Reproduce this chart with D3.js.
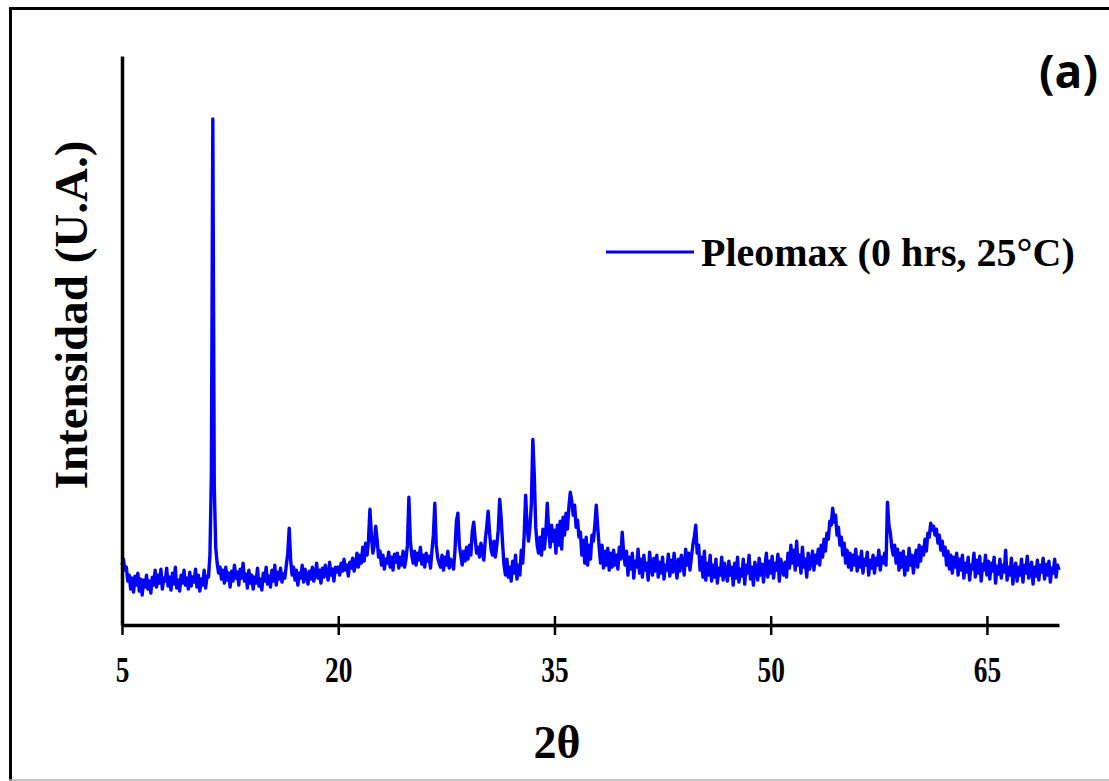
<!DOCTYPE html>
<html>
<head>
<meta charset="utf-8">
<script src="https://cdn.jsdelivr.net/npm/d3@7"></script>
<style>
  html, body { margin: 0; padding: 0; background: #fff; overflow: hidden; }
  svg { display: block; }
</style>
</head>
<body>
<div id="chart"></div>
<script>
// Patrón DRX - Pleomax (0 hrs, 25°C)
// 2θ de 5 a 70 en pasos de 0.1
const thetaStart = 5;
const thetaStep = 0.1;

const intensity = [
  // 5
  60, 66, 55, 58, 44, 50, 36, 47, 33, 49,
  // 6
  40, 52, 34, 46, 30, 45, 38, 50, 36, 44,
  // 7
  32, 48, 40, 55, 38, 50, 42, 56, 36, 47,
  // 8
  44, 57, 39, 48, 35, 52, 41, 58, 37, 45,
  // 9
  34, 50, 42, 55, 40, 47, 36, 53, 39, 48,
  // 10
  43, 56, 38, 50, 34, 46, 40, 55, 37, 49,
  // 11
  48, 70, 150, 507, 140, 78, 62, 52, 58, 46,
  // 12
  55, 42, 58, 45, 52, 38, 54, 44, 60, 47,
  // 13
  53, 40, 56, 47, 62, 44, 51, 37, 55, 42,
  // 14
  50, 36, 48, 42, 57, 39, 46, 35, 52, 44,
  // 15
  58, 41, 49, 38, 55, 44, 60, 40, 53, 46,
  // 16
  57, 43, 51, 47, 60, 72, 97, 65, 50, 58,
  // 17
  45, 55, 40, 52, 47, 60, 43, 56, 49, 41,
  // 18
  54, 46, 58, 44, 50, 62, 47, 55, 42, 57,
  // 19
  48, 60, 52, 45, 63, 50, 56, 44, 58, 53,
  // 20
  58, 50, 62, 54, 66, 55, 60, 49, 63, 57,
  // 21
  67, 54, 61, 72, 58, 70, 62, 78, 64, 82,
  // 22
  70, 85, 116, 90, 72, 80, 99, 85, 68, 74,
  // 23
  60, 70, 56, 66, 62, 73, 58, 68, 55, 71,
  // 24
  63, 72, 57, 68, 60, 74, 58, 66, 80, 128,
  // 25
  85, 70, 62, 74, 60, 72, 65, 78, 61, 70,
  // 26
  58, 72, 64, 69, 57, 74, 90, 122, 80, 67,
  // 27
  62, 58, 70, 55, 68, 60, 74, 57, 66, 62,
  // 28
  56, 75, 104, 112, 80, 70, 60, 74, 64, 78,
  // 29
  66, 80, 70, 94, 103, 86, 72, 78, 68, 82,
  // 30
  74, 65, 85, 98, 114, 92, 76, 70, 84, 68,
  // 31
  80, 95, 126, 108, 82, 60, 50, 66, 48, 58,
  // 32
  44, 64, 52, 70, 46, 60, 50, 75, 62, 90,
  // 33
  130, 100, 84, 98, 122, 186, 150, 98, 80, 72,
  // 34
  88, 70, 96, 76, 92, 122, 95, 78, 100, 84,
  // 35
  95, 72, 100, 80, 104, 76, 108, 90, 112, 96,
  // 36
  118, 133, 124, 110, 120, 98, 105, 88, 93, 70,
  // 37
  85, 62, 88, 60, 80, 66, 90, 84, 100, 120,
  // 38
  98, 78, 62, 80, 57, 74, 60, 77, 55, 72,
  // 39
  58, 75, 60, 70, 56, 78, 66, 93, 72, 60,
  // 40
  74, 50, 68, 56, 72, 47, 64, 58, 76, 52,
  // 41
  66, 48, 70, 55, 62, 45, 73, 58, 50, 67,
  // 42
  54, 70, 48, 63, 52, 68, 46, 60, 55, 71,
  // 43
  49, 65, 53, 72, 58, 47, 66, 54, 70, 62,
  // 44
  50, 76, 60, 72, 55, 68, 80, 88, 100, 72,
  // 45
  80, 55, 68, 48, 74, 45, 62, 50, 70, 44,
  // 46
  60, 48, 66, 42, 57, 50, 68, 45, 62, 52,
  // 47
  44, 64, 50, 58, 40, 62, 47, 68, 43, 56,
  // 48
  49, 66, 41, 60, 52, 70, 46, 58, 40, 63,
  // 49
  54, 45, 67, 50, 61, 43, 58, 72, 48, 64,
  // 50
  52, 69, 47, 62, 55, 71, 44, 66, 58, 50,
  // 51
  63, 48, 72, 57, 80, 62, 75, 55, 84, 60,
  // 52
  70, 52, 78, 58, 66, 48, 72, 56, 63, 74,
  // 53
  55, 70, 62, 76, 60, 80, 68, 86, 74, 92,
  // 54
  86, 104, 100, 117, 103, 110, 90, 98, 80, 88,
  // 55
  70, 82, 62, 75, 58, 72, 55, 70, 60, 76,
  // 56
  54, 68, 58, 74, 52, 66, 60, 73, 50, 65,
  // 57
  57, 70, 52, 67, 60, 75, 55, 68, 62, 72,
  // 58
  60, 123, 100, 92, 78, 70, 80, 62, 76, 55,
  // 59
  72, 58, 74, 50, 68, 55, 77, 60, 70, 52,
  // 60
  66, 75, 58, 80, 64, 78, 70, 86, 74, 92,
  // 61
  88, 102, 95, 99, 90, 96, 82, 90, 75, 84,
  // 62
  70, 78, 60, 74, 56, 70, 52, 68, 58, 72,
  // 63
  50, 66, 55, 70, 47, 62, 53, 68, 45, 60,
  // 64
  56, 72, 48, 65, 52, 69, 44, 61, 55, 70,
  // 65
  50, 64, 46, 62, 54, 68, 42, 59, 51, 66,
  // 66
  47, 60, 53, 75, 45, 58, 50, 67, 41, 56,
  // 67
  62, 44, 58, 50, 66, 43, 60, 52, 69, 47,
  // 68
  55, 63, 41, 58, 49, 65, 45, 60, 53, 67,
  // 69
  46, 61, 50, 64, 43, 57, 52, 66, 48, 60,
  // 70
  55
];

const xTicks = [5, 20, 35, 50, 65];
const seriesName = "Pleomax (0 hrs, 25°C)";
const panelLabel = "(a)";

const W = 1109, H = 781;
const serif = "'Liberation Serif', 'Times New Roman', serif";

const svg = d3.select("#chart")
    .append("svg")
    .attr("width", W)
    .attr("height", H);

// marco exterior
svg.append("line")
    .attr("x1", 9).attr("x2", W + 5)
    .attr("y1", 8.5).attr("y2", 8.5)
    .attr("stroke", "#000").attr("stroke-width", 3);
svg.append("line")
    .attr("x1", 10.5).attr("x2", 10.5)
    .attr("y1", 7).attr("y2", H)
    .attr("stroke", "#000").attr("stroke-width", 3);
svg.append("line")
    .attr("x1", 9).attr("x2", W)
    .attr("y1", 780).attr("y2", 780)
    .attr("stroke", "#b5b5b5").attr("stroke-width", 1.5);

// escalas
const x = d3.scaleLinear().domain([5, 70]).range([122, 1059]);
const y = d3.scaleLinear().domain([0, 570]).range([625, 56]);

const data = intensity.map((v, i) => ({ t: thetaStart + i * thetaStep, v: v }));

// curva
const line = d3.line()
    .x(d => x(d.t))
    .y(d => y(d.v));

svg.append("path")
    .datum(data)
    .attr("fill", "none")
    .attr("stroke", "#0000ff")
    .attr("stroke-width", 3.4)
    .attr("stroke-linejoin", "round")
    .attr("d", line);

// eje X
const xAxis = svg.append("g")
    .attr("transform", `translate(0,${y(0)})`)
    .call(d3.axisBottom(x).tickValues(xTicks).tickSizeOuter(0).tickSize(0).tickPadding(0));

xAxis.select(".domain")
    .attr("stroke", "#000")
    .attr("stroke-width", 3.5);
xAxis.selectAll(".tick line")
    .attr("y1", -9).attr("y2", 10)
    .attr("stroke", "#000").attr("stroke-width", 2.5);
xAxis.selectAll(".tick text")
    .attr("y", 0)
    .attr("dy", 0)
    .attr("transform", "translate(0,57) scale(0.76,1)")
    .style("font-family", serif)
    .style("font-weight", "bold")
    .style("font-size", "36px")
    .attr("fill", "#000");

// eje Y (sin marcas)
const yAxis = svg.append("g")
    .attr("transform", `translate(${x(5)},0)`)
    .call(d3.axisLeft(y).tickValues([]).tickSizeOuter(0));
yAxis.select(".domain")
    .attr("stroke", "#000")
    .attr("stroke-width", 3.5);

// títulos de ejes
svg.append("text")
    .attr("x", 557)
    .attr("y", 758)
    .attr("text-anchor", "middle")
    .style("font-family", serif)
    .style("font-weight", "bold")
    .style("font-size", "46px")
    .text("2θ");

svg.append("text")
    .attr("transform", "translate(87,315) rotate(-90)")
    .attr("text-anchor", "middle")
    .style("font-family", serif)
    .style("font-weight", "bold")
    .style("font-size", "47px")
    .text("Intensidad (U.A.)");

// leyenda
svg.append("line")
    .attr("x1", 606).attr("x2", 694)
    .attr("y1", 252).attr("y2", 252)
    .attr("stroke", "#0000ff")
    .attr("stroke-width", 3);

svg.append("text")
    .attr("x", 701)
    .attr("y", 266)
    .style("font-family", serif)
    .style("font-weight", "bold")
    .style("font-size", "40px")
    .text(seriesName);

// etiqueta del panel
svg.append("text")
    .attr("x", 1098)
    .attr("y", 88)
    .attr("text-anchor", "end")
    .style("font-family", "'Open Sans', 'Liberation Sans', sans-serif")
    .style("font-weight", "bold")
    .style("font-size", "46px")
    .text(panelLabel);
</script>
</body>
</html>
